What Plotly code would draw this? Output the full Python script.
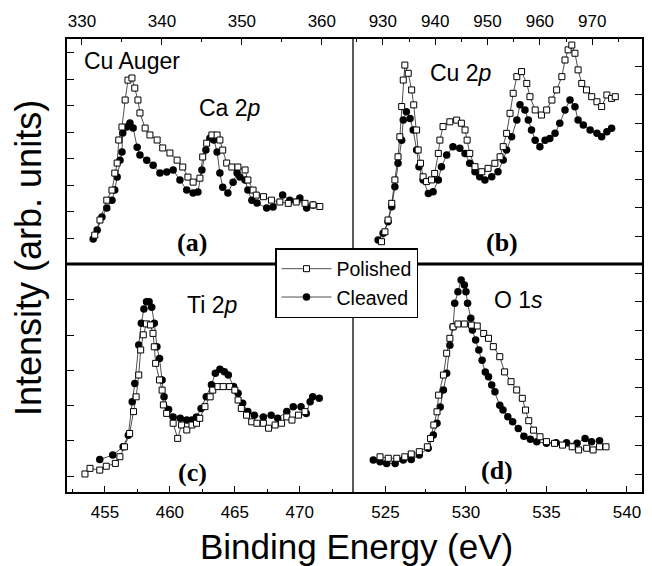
import plotly.graph_objects as go

# ---------------- data (Binding energy in eV, intensity in arb. units) ----------------
# (a) Cu Auger / Ca 2p
a_pol_x = [331.6, 332.25, 333.1, 333.75, 334.1, 334.4, 334.6, 335.0, 335.4, 335.75,
           336.25, 336.6, 337.0, 337.25, 337.9, 338.5, 339.4, 340.1, 341.0, 341.9,
           342.6, 343.25, 343.9, 344.75, 345.1, 345.6, 346.25, 346.9, 347.25, 347.6,
           348.1, 348.75, 349.5, 350.4, 350.75, 351.4, 351.8, 352.7, 353.7, 354.75,
           355.8, 356.8, 357.9, 358.9, 359.75]
a_pol_y = [0.11, 0.68, 1.43, 1.81, 2.45, 2.83, 3.70, 4.19, 5.21, 5.96,
           6.04, 5.66, 5.21, 4.72, 4.15, 3.89, 3.70, 3.40, 3.21, 2.94,
           2.68, 2.30, 2.11, 2.26, 3.06, 3.58, 3.89, 3.89, 3.70, 3.32,
           2.83, 2.68, 2.68, 2.57, 2.19, 1.81, 1.62, 1.56, 1.43, 1.36,
           1.31, 1.36, 1.31, 1.25, 1.19]
a_clv_x = [331.4, 331.9, 332.5, 333.1, 333.75, 334.1, 334.4, 334.75, 335.0, 335.1,
           335.6, 336.0, 336.4, 336.9, 337.25, 338.1, 338.9, 339.75, 340.6, 341.4,
           342.25, 343.1, 343.9, 344.5, 345.0, 345.5, 346.0, 346.5, 346.9, 347.25,
           347.6, 348.25, 348.9, 349.4, 349.75, 350.4, 350.75, 351.25, 351.9, 353.1,
           353.9, 355.1, 356.0, 357.25, 358.1, 358.9]
a_clv_y = [-0.04, 0.30, 0.79, 1.13, 1.43, 1.81, 2.30, 2.94, 3.25, 3.96,
           4.19, 4.34, 4.15, 3.43, 3.13, 2.94, 2.75, 2.45, 2.49, 2.57,
           2.19, 1.81, 1.70, 1.74, 2.57, 3.32, 3.77, 3.70, 3.25, 2.45,
           1.92, 1.70, 2.11, 2.45, 2.30, 2.19, 1.81, 1.43, 1.32, 1.13,
           1.17, 1.62, 1.43, 1.51, 1.13, 1.25]

# (b) Cu 2p
b_pol_x = [929.75, 930.4, 931.0, 931.7, 932.3, 932.9, 933.25, 933.6, 933.9, 934.2,
           934.85, 935.5, 935.9, 936.45, 936.75, 937.2, 937.7, 938.35, 939.3, 939.9,
           940.6, 940.9, 941.5, 942.8, 944.1, 945.0, 945.7, 946.1, 946.6, 947.6,
           948.9, 950.1, 951.4, 952.4, 953.0, 953.65, 954.3, 954.9, 955.6, 956.5,
           957.5, 958.1, 959.1, 960.3, 961.3, 962.3, 963.2, 964.2, 964.8, 965.4,
           966.1, 966.7, 967.3, 968.0, 968.9, 969.9, 970.9, 971.8, 972.8, 973.7,
           974.4]
b_pol_y = [-0.20, 0.15, 0.57, 1.16, 1.99, 2.81, 3.52, 4.59, 5.53, 6.06,
           5.77, 5.18, 4.65, 3.76, 3.05, 2.58, 2.10, 1.93, 1.99, 2.22,
           2.93, 3.40, 3.88, 4.05, 4.11, 4.00, 3.76, 3.40, 2.93, 2.46,
           2.28, 2.40, 2.58, 2.81, 3.17, 3.64, 4.35, 5.06, 5.65, 5.83,
           5.41, 4.94, 4.47, 4.29, 4.47, 4.82, 5.18, 5.65, 6.24, 6.60,
           6.77, 6.48, 5.89, 5.41, 5.18, 4.94, 4.76, 4.59, 5.00, 4.88,
           4.94]
b_clv_x = [929.1, 930.05, 931.0, 931.7, 932.3, 932.9, 933.6, 933.9, 934.5, 935.2,
           935.8, 936.45, 936.9, 937.7, 938.7, 939.6, 940.6, 941.2, 942.2, 943.4,
           944.7, 945.7, 946.6, 947.6, 948.5, 949.5, 950.8, 952.0, 953.0, 953.65,
           954.6, 955.6, 956.2, 957.15, 957.8, 958.4, 959.1, 960.0, 961.0, 961.9,
           962.9, 963.8, 964.8, 965.75, 966.7, 967.3, 968.3, 969.6, 970.9, 971.8,
           972.8, 973.7]
b_clv_y = [-0.14, 0.10, 0.51, 1.04, 1.75, 2.58, 3.40, 4.11, 4.41, 4.17,
           3.76, 3.05, 2.46, 1.99, 1.51, 1.57, 1.99, 2.46, 2.87, 3.17,
           3.11, 2.93, 2.58, 2.28, 2.10, 1.99, 2.10, 2.28, 2.70, 3.05,
           3.52, 4.11, 4.65, 4.47, 4.11, 3.76, 3.40, 3.17, 3.40, 3.46,
           3.64, 4.00, 4.47, 4.82, 4.58, 4.11, 3.94, 3.76, 3.64, 3.52,
           3.70, 3.82]

# (c) Ti 2p
c_pol_x = [453.46, 453.85, 454.6, 455.1, 455.8, 456.15, 456.5, 456.9, 457.2, 457.4,
           457.6, 457.75, 457.95, 458.2, 458.5, 458.7, 458.8, 458.9, 459.2, 459.4,
           459.5, 459.75, 460.25, 460.6, 460.9, 461.3, 461.7, 462.05, 462.3, 462.7,
           463.1, 463.3, 463.7, 464.1, 464.6, 465.0, 465.25, 465.5, 465.9, 466.3,
           466.7, 467.2, 467.6, 468.1, 468.6, 469.0, 469.4, 469.9, 470.4]
c_pol_y = [0.06, 0.22, 0.17, 0.28, 0.36, 0.55, 0.83, 1.21, 1.83, 2.25,
           2.87, 3.58, 4.01, 4.32, 4.29, 4.05, 3.67, 3.20, 2.73, 2.44,
           2.02, 1.78, 1.50, 1.07, 1.45, 1.31, 1.45, 1.50, 1.64, 1.97,
           2.25, 2.44, 2.54, 2.54, 2.54, 2.44, 2.16, 1.92, 1.73, 1.54,
           1.50, 1.50, 1.36, 1.45, 1.50, 1.68, 1.59, 1.73, 1.83]
c_clv_x = [454.6, 455.6, 456.4, 456.8, 457.1, 457.3, 457.6, 457.8, 458.0, 458.2,
           458.4, 458.6, 458.8, 459.0, 459.2, 459.4, 459.55, 459.9, 460.25, 460.8,
           461.3, 461.7, 462.05, 462.4, 462.8, 463.2, 463.5, 463.85, 464.2, 464.5,
           464.9, 465.25, 465.6, 466.0, 466.5, 467.2, 467.8, 468.3, 469.0, 469.5,
           470.1, 470.5, 470.8, 471.0, 471.5]
c_clv_y = [0.47, 0.60, 0.83, 1.16, 2.11, 2.63, 3.72, 4.34, 4.74, 4.95,
           4.95, 4.79, 4.34, 3.67, 3.34, 2.73, 2.25, 1.89, 1.68, 1.64,
           1.59, 1.59, 1.68, 1.92, 2.25, 2.59, 2.92, 3.03, 2.96, 2.87,
           2.54, 2.35, 2.07, 1.83, 1.73, 1.68, 1.73, 1.64, 1.83, 1.97,
           1.97, 1.78, 2.11, 2.25, 2.21]

# (d) O 1s
d_pol_x = [524.66, 525.17, 525.7, 526.2, 526.6, 527.1, 527.6, 527.8, 528.0, 528.2,
           528.3, 528.6, 528.8, 529.0, 529.2, 529.5, 529.9, 530.35, 530.7, 531.1,
           531.4, 531.7, 532.1, 532.4, 532.8, 533.15, 533.5, 533.7, 533.9, 534.2,
           534.6, 535.0, 535.5, 536.0, 536.6, 537.0, 537.5, 537.9, 538.3, 538.7]
d_pol_y = [0.60, 0.55, 0.55, 0.60, 0.70, 0.78, 0.95, 1.24, 1.71, 2.17,
           2.75, 3.45, 4.21, 4.73, 5.13, 5.23, 5.23, 5.19, 5.16, 4.90,
           4.73, 4.44, 4.09, 3.56, 3.22, 2.93, 2.64, 2.23, 1.86, 1.53,
           1.30, 1.13, 1.07, 1.01, 0.95, 0.84, 0.90, 0.84, 0.95, 0.95]
d_clv_x = [524.24, 524.66, 525.07, 525.6, 526.1, 526.6, 527.1, 527.65, 527.97, 528.2,
           528.4, 528.6, 528.8, 529.0, 529.2, 529.3, 529.5, 529.7, 529.9, 530.0,
           530.1, 530.3, 530.4, 530.6, 530.8, 531.0, 531.2, 531.4, 531.6, 531.8,
           532.1, 532.3, 532.6, 532.9, 533.25, 533.6, 534.0, 534.4, 535.0, 535.6,
           536.25, 536.9, 537.4, 537.8, 538.3]
d_clv_y = [0.49, 0.43, 0.37, 0.37, 0.49, 0.51, 0.66, 0.90, 1.36, 1.77,
           2.34, 2.93, 3.51, 4.49, 5.13, 5.95, 6.35, 6.76, 6.59, 6.35,
           5.95, 5.43, 5.02, 4.67, 4.32, 3.97, 3.56, 3.39, 3.10, 2.87,
           2.40, 2.23, 2.00, 1.82, 1.59, 1.32, 1.21, 1.13, 1.07, 1.09,
           1.09, 1.07, 1.24, 1.13, 1.16]

series_names = ["Polished", "Cleaved"]
panel_labels = ["(a)", "(b)", "(c)", "(d)"]
peak_labels = ["Ca 2<i>p</i>", "Cu 2<i>p</i>", "Ti 2<i>p</i>", "O 1<i>s</i>"]
x_title = "Binding Energy (eV)"
y_title = "Intensity (arb. units)"

# ---------------- layout helpers ----------------
W, H = 652, 566
FONT = "Liberation Sans, Arial, Helvetica, sans-serif"
SERIF = "Liberation Serif, Times New Roman, serif"


def fx(p):
    return p / W


def fy(p):
    return 1 - p / H


XL, XM, XR = 66, 353, 643
YT, YM, YB = 38, 264, 493

panels = [
    dict(n="", px=(XL, XM), py=(YT, YM), xr=[328.0, 363.9], yr=[-0.98, 7.55],
         xside="top", yside="left", t0=330, dt=10, mdt=5,
         pol=(a_pol_x, a_pol_y), clv=(a_clv_x, a_clv_y)),
    dict(n="2", px=(XM, XR), py=(YT, YM), xr=[924.3, 979.7], yr=[-0.99, 7.02],
         xside="top", yside="right", t0=930, dt=10, mdt=5,
         pol=(b_pol_x, b_pol_y), clv=(b_clv_x, b_clv_y)),
    dict(n="3", px=(XL, XM), py=(YM, YB), xr=[452.0, 474.1], yr=[-0.48, 6.02],
         xside="bottom", yside="left", t0=455, dt=5, mdt=2.5,
         pol=(c_pol_x, c_pol_y), clv=(c_clv_x, c_clv_y)),
    dict(n="4", px=(XM, XR), py=(YM, YB), xr=[522.98, 541.0], yr=[-0.66, 7.32],
         xside="bottom", yside="right", t0=525, dt=5, mdt=2.5,
         pol=(d_pol_x, d_pol_y), clv=(d_clv_x, d_clv_y)),
]

fig = go.Figure()
layout_axes = {}
for i, p in enumerate(panels):
    n = p["n"]
    xid, yid = "x" + n, "y" + n
    first = i == 0
    fig.add_trace(go.Scatter(
        x=p["clv"][0], y=p["clv"][1], xaxis=xid, yaxis=yid, mode="lines+markers",
        name=series_names[1], legendgroup="clv", showlegend=first, legendrank=2,
        line=dict(color="#222222", width=0.8),
        marker=dict(symbol="circle", size=7.5, color="black", line=dict(width=0)),
    ))
    fig.add_trace(go.Scatter(
        x=p["pol"][0], y=p["pol"][1], xaxis=xid, yaxis=yid, mode="lines+markers",
        name=series_names[0], legendgroup="pol", showlegend=first, legendrank=1,
        line=dict(color="#222222", width=0.8),
        marker=dict(symbol="square", size=6, color="white",
                    line=dict(color="black", width=1)),
    ))
    layout_axes["xaxis" + n] = dict(
        domain=[fx(p["px"][0]), fx(p["px"][1])], range=p["xr"], anchor=yid,
        side=p["xside"], showline=False, zeroline=False, showgrid=False,
        ticks="inside", ticklen=7, tickwidth=1.3, tickcolor="black",
        tickmode="linear", tick0=p["t0"], dtick=p["dt"], ticklabelstandoff=7,
        tickfont=dict(family=FONT, size=17, color="black"),
        minor=dict(tickmode="linear", tick0=p["t0"], dtick=p["mdt"], ticks="inside",
                   ticklen=4, tickwidth=1.3, tickcolor="black", showgrid=False),
    )
    layout_axes["yaxis" + n] = dict(
        domain=[fy(p["py"][1]), fy(p["py"][0])], range=p["yr"], anchor=xid,
        side=p["yside"], showline=False, zeroline=False, showgrid=False,
        ticks="inside", ticklen=8, tickwidth=1.3, tickcolor="black",
        tickmode="linear", tick0=0, dtick=1, showticklabels=False,
    )

annotations = [
    dict(text="Cu Auger", x=fx(82), y=fy(61), xanchor="left", font_size=23),
    dict(text=peak_labels[0], x=fx(230), y=fy(108), font_size=23),
    dict(text=peak_labels[1], x=fx(461), y=fy(73), font_size=23),
    dict(text=peak_labels[2], x=fx(212), y=fy(305), font_size=23),
    dict(text=peak_labels[3], x=fx(518), y=fy(300), font_size=23),
    dict(text="<b>" + panel_labels[0] + "</b>", x=fx(192), y=fy(243), font=dict(family=SERIF, size=26)),
    dict(text="<b>" + panel_labels[1] + "</b>", x=fx(502), y=fy(243), font=dict(family=SERIF, size=26)),
    dict(text="<b>" + panel_labels[2] + "</b>", x=fx(192), y=fy(472), font=dict(family=SERIF, size=26)),
    dict(text="<b>" + panel_labels[3] + "</b>", x=fx(497), y=fy(470), font=dict(family=SERIF, size=26)),
    dict(text=x_title, x=fx(357), y=fy(546), font_size=35),
    dict(text=y_title, x=fx(28), y=fy(258), textangle=-90, font_size=36),
]
for a in annotations:
    a.setdefault("xanchor", "center")
    a.update(xref="paper", yref="paper", yanchor="middle", showarrow=False)
    f = a.pop("font", None) or {}
    size = a.pop("font_size", None)
    a["font"] = dict(family=f.get("family", FONT), size=f.get("size", size), color="black")

shapes = [
    dict(type="rect", xref="paper", yref="paper", x0=fx(XL), x1=fx(XR), y0=fy(YB), y1=fy(YT),
         line=dict(color="black", width=2)),
    dict(type="line", xref="paper", yref="paper", x0=fx(XM), x1=fx(XM), y0=fy(YB), y1=fy(YT),
         line=dict(color="black", width=1.3)),
    dict(type="line", xref="paper", yref="paper", x0=fx(XL), x1=fx(XR), y0=fy(YM), y1=fy(YM),
         line=dict(color="black", width=3)),
]

fig.update_layout(
    width=W, height=H, margin=dict(l=0, r=0, t=0, b=0),
    paper_bgcolor="white", plot_bgcolor="rgba(0,0,0,0)",
    font=dict(family=FONT, color="black"),
    showlegend=True,
    legend=dict(x=fx(275), y=fy(248), xanchor="left", yanchor="top",
                bgcolor="white", bordercolor="black", borderwidth=1.5,
                font=dict(family=FONT, size=19.5, color="black"),
                itemwidth=50, tracegroupgap=0),
    annotations=annotations, shapes=shapes,
    **layout_axes,
)

fig.write_html("out.html", config={"displayModeBar": False},
               post_script="document.body.style.margin='0';document.body.style.padding='0';")
